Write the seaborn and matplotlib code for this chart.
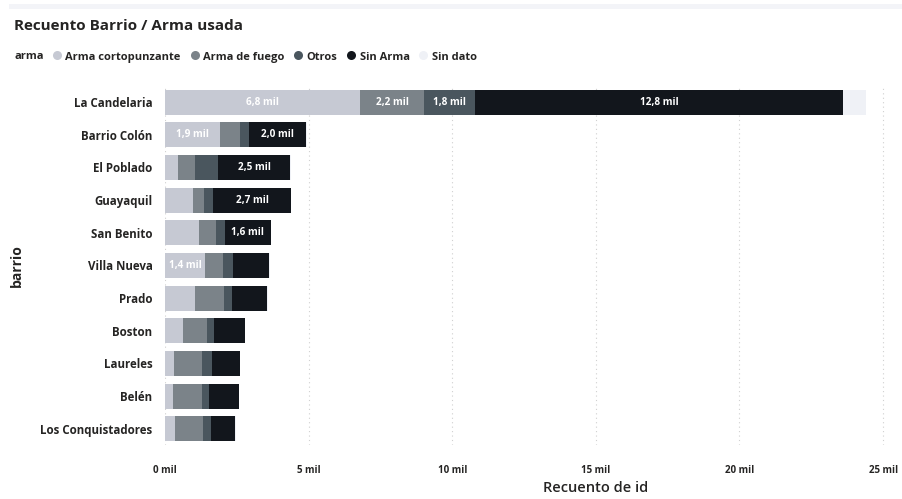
import matplotlib
matplotlib.use("Agg")
import matplotlib.pyplot as plt
from matplotlib.lines import Line2D
from matplotlib.patches import Rectangle
import numpy as np
import pandas as pd
import seaborn as sns

barrios = ["La Candelaria", "Barrio Colón", "El Poblado", "Guayaquil", "San Benito",
           "Villa Nueva", "Prado", "Boston", "Laureles", "Belén", "Los Conquistadores"]
armas = ["Arma cortopunzante", "Arma de fuego", "Otros", "Sin Arma", "Sin dato"]
cortopunzante = [6800, 1900, 460, 960, 1190, 1400, 1040, 610, 320, 290, 350]
fuego = [2200, 720, 590, 400, 600, 600, 1000, 850, 960, 1010, 970]
otros = [1800, 290, 810, 320, 290, 350, 280, 260, 370, 230, 270]
sin_arma = [12800, 2000, 2500, 2700, 1600, 1280, 1240, 1070, 950, 1040, 860]
sin_dato = [800, 30, 20, 20, 20, 20, 20, 10, 10, 10, 10]
x_ticks = [0, 5000, 10000, 15000, 20000, 25000]
x_tick_labels = ["0 mil", "5 mil", "10 mil", "15 mil", "20 mil", "25 mil"]

colors = ["#c6c9d3", "#7b8389", "#4a565e", "#12161c", "#eff1f6"]

sns.set_style("white")
plt.rcParams["font.family"] = ["Open Sans", "DejaVu Sans"]

series = [cortopunzante, fuego, otros, sin_arma, sin_dato]
df = pd.DataFrame({"barrio": barrios})
for name, vals in zip(armas, series):
    df[name] = vals
cum = df[armas].cumsum(axis=1)

fig = plt.figure(figsize=(9.02, 4.99), dpi=100)
ax = fig.add_axes([0.183, 0.108, 0.804, 0.720])

for i in range(len(armas) - 1, -1, -1):
    sns.barplot(x=cum[armas[i]], y=df["barrio"], color=colors[i], orient="h",
                width=0.77, saturation=1, errorbar=None, linewidth=0, ax=ax, zorder=2)

# data labels
for i, name in enumerate(armas):
    starts = cum[name] - df[name]
    for j, v in enumerate(df[name]):
        if v >= 1350:
            ax.text(starts[j] + v / 2, j, f"{v/1000:.1f} mil".replace(".", ","),
                    ha="center", va="center", color="white", fontsize=7.2,
                    fontweight="bold", zorder=3)

ax.set_xlim(0, 25250)
ax.set_ylim(len(barrios) - 0.5, -0.5)
ax.set_xticks(x_ticks)
ax.set_xticklabels(x_tick_labels, fontsize=7, fontweight="bold", color="#252423")
ax.tick_params(axis="x", length=0, pad=14)
ax.tick_params(axis="y", length=0, pad=9)
for lab in ax.get_yticklabels():
    lab.set_fontsize(8.3)
    lab.set_fontweight("bold")
    lab.set_color("#252423")
ax.grid(axis="x", linestyle=(0, (1, 3)), color="#d0d0d0", linewidth=0.8, zorder=0)
ax.set_axisbelow(True)
for s in ax.spines.values():
    s.set_visible(False)
ax.set_xlabel("Recuento de id", fontsize=10.5, fontweight="semibold", color="#252423")
ax.xaxis.set_label_coords(0.594, -0.10)
ax.set_ylabel("barrio", fontsize=10, fontweight="bold", color="#252423")
ax.yaxis.set_label_coords(-0.195, 0.5)

# top band
fig.patches.append(Rectangle((0.01, 0.982), 0.99, 0.01, transform=fig.transFigure,
                             facecolor="#f3f4f8", edgecolor="none"))

fig.text(0.016, 0.948, "Recuento Barrio / Arma usada", fontsize=11,
         fontweight="bold", color="#252423", va="center")
fig.text(0.016, 0.886, "arma", fontsize=8, fontweight="bold", color="#252423", va="center")
handles = [Line2D([], [], marker="o", linestyle="", markersize=6.5,
                  markerfacecolor=c, markeredgecolor="none") for c in colors]
leg = fig.legend(handles, armas, loc="center left", bbox_to_anchor=(0.054, 0.886),
                 ncol=5, frameon=False, handletextpad=0.0, columnspacing=0.4,
                 handlelength=1.2, borderaxespad=0, borderpad=0)
for t in leg.get_texts():
    t.set_fontsize(8)
    t.set_fontweight("bold")
    t.set_color("#252423")

fig.savefig("out.png", dpi=100)
